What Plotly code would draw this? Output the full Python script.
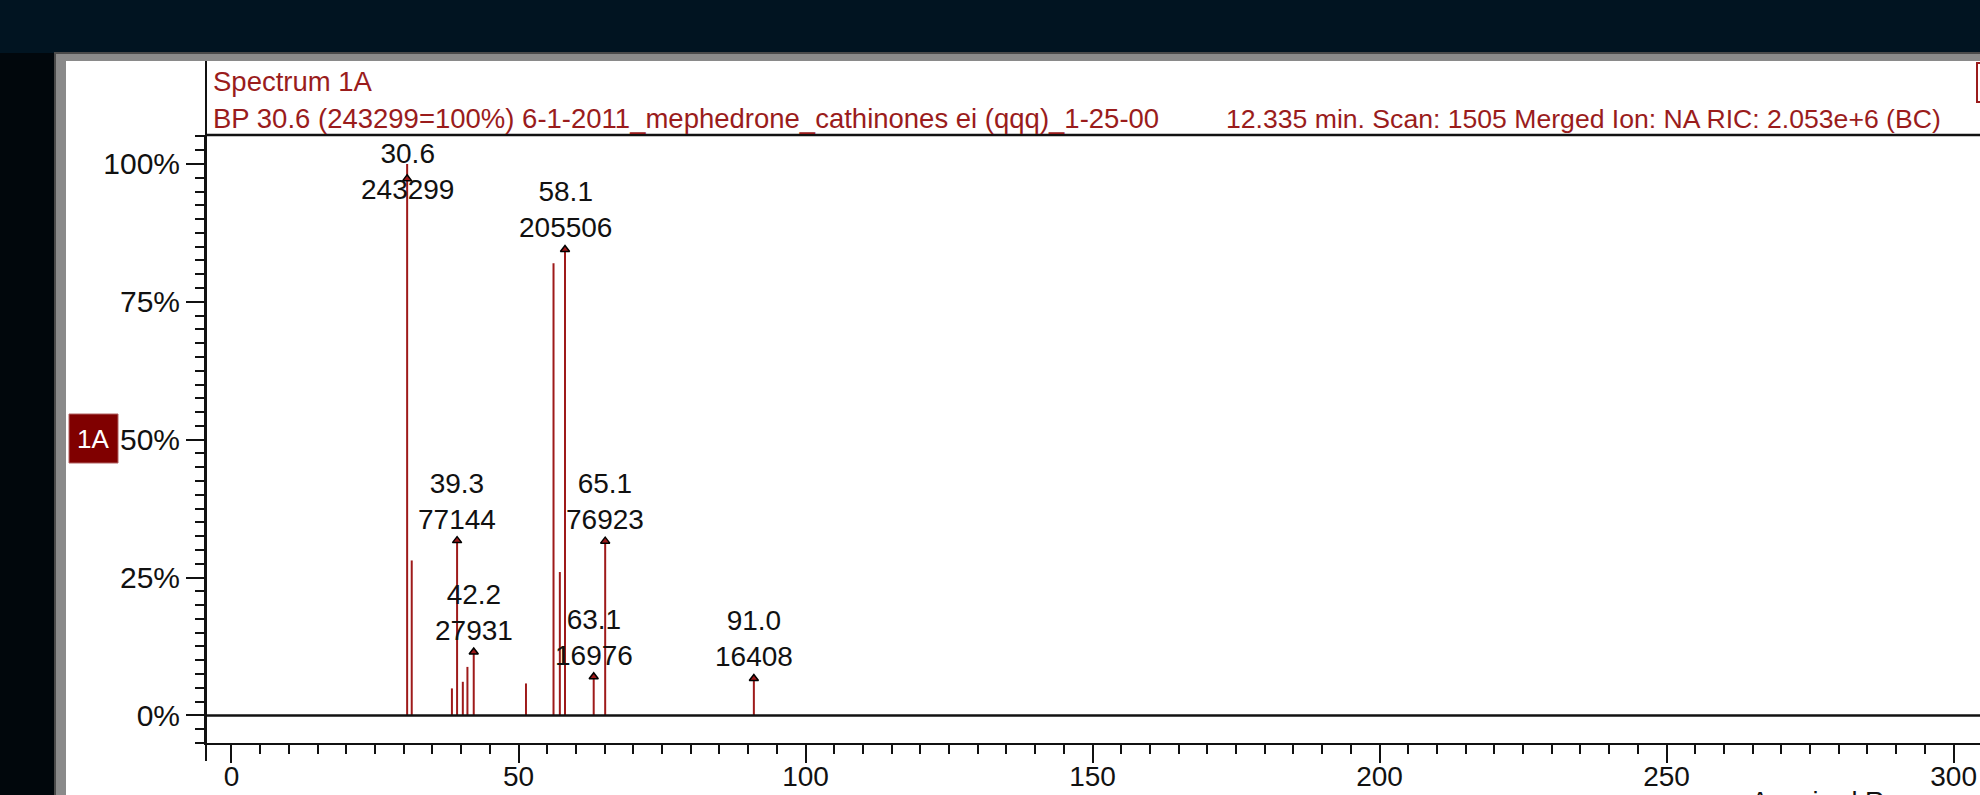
import plotly.graph_objects as go

# ---------------- data ----------------
peak_mz = [30.6, 31.4, 38.4, 39.3, 40.3, 41.1, 42.2, 51.3, 56.1, 57.2, 58.1, 63.1, 65.1, 91.0]
peak_rel = [100.0, 28.1, 4.9, 31.7, 6.1, 8.8, 11.5, 5.8, 82.0, 26.0, 84.5, 7.0, 31.6, 6.7]

label_mz = [30.6, 58.1, 39.3, 65.1, 42.2, 63.1, 91.0]
label_int = [243299, 205506, 77144, 76923, 27931, 16976, 16408]

x_ticks = [0, 50, 100, 150, 200, 250, 300]
y_ticks = [0, 25, 50, 75, 100]
y_ticktext = ["0%", "25%", "50%", "75%", "100%"]

title1 = "Spectrum 1A"
title2 = "BP 30.6 (243299=100%) 6-1-2011_mephedrone_cathinones ei (qqq)_1-25-00"
title3 = "12.335 min. Scan: 1505 Merged Ion: NA RIC: 2.053e+6 (BC)"
trace_tag = "1A"
range_text = "Acquired Range"

# ---------------- layout geometry (pixels) ----------------
W, H = 1980, 795
L, R, T, B = 206, 1980, 135, 743
X_RANGE = [-4.44, 304.6]
Y_RANGE = [-5, 105.25]

PEAK_COLOR = "#9e1a1a"
TEXT_RED = "#9a1c1c"
FONT = "Liberation Sans, Arial, sans-serif"


def xp(px):
    return (px - L) / (R - L)


def yp(py):
    return (B - py) / (B - T)


fig = go.Figure()

# peak sticks
xs, ys = [], []
for m, h in zip(peak_mz, peak_rel):
    xs += [m, m, None]
    ys += [0, h, None]
fig.add_trace(go.Scatter(x=xs, y=ys, mode="lines",
                         line=dict(color=PEAK_COLOR, width=2),
                         hoverinfo="skip", showlegend=False))

# arrow markers + labels
rel_lookup = dict(zip(peak_mz, peak_rel))
ARROW_CAP = 97.3
arr_x, arr_y = [], []
annotations = []
for m, inten in zip(label_mz, label_int):
    h = rel_lookup[m]
    arr_x.append(m)
    arr_y.append(min(h, ARROW_CAP))
    txt = f"{m:.1f}<br>{inten}"
    if h + 14.5 > Y_RANGE[1]:
        annotations.append(dict(x=m, y=Y_RANGE[1], xref="x", yref="y", text=txt,
                                showarrow=False, xanchor="center", yanchor="top",
                                yshift=-1, font=dict(family=FONT, size=28, color="#111")))
    else:
        annotations.append(dict(x=m, y=h, xref="x", yref="y", text=txt,
                                showarrow=False, xanchor="center", yanchor="bottom",
                                yshift=4, font=dict(family=FONT, size=28, color="#111")))

fig.add_trace(go.Scatter(x=arr_x, y=arr_y, mode="markers",
                         marker=dict(symbol="triangle-up", size=8, color=PEAK_COLOR,
                                     line=dict(color="black", width=1.5)),
                         hoverinfo="skip", showlegend=False))

# header texts
annotations += [
    dict(x=xp(211), y=yp(82), xref="paper", yref="paper", text=title1, showarrow=False,
         xanchor="left", yanchor="middle", font=dict(family=FONT, size=27.5, color=TEXT_RED)),
    dict(x=xp(211), y=yp(119), xref="paper", yref="paper", text=title2, showarrow=False,
         xanchor="left", yanchor="middle", font=dict(family=FONT, size=27.5, color=TEXT_RED)),
    dict(x=xp(1224), y=yp(119), xref="paper", yref="paper", text=title3, showarrow=False,
         xanchor="left", yanchor="middle", font=dict(family=FONT, size=26.6, color=TEXT_RED)),
    dict(x=xp(93.5), y=yp(438.5), xref="paper", yref="paper", text=trace_tag, showarrow=False,
         xanchor="center", yanchor="middle", font=dict(family=FONT, size=26, color="white")),
    dict(x=xp(1749), y=yp(785), xref="paper", yref="paper", text=range_text, showarrow=False,
         xanchor="left", yanchor="top", font=dict(family=FONT, size=27, color="#111")),
]

shapes = [
    # dark left strip
    dict(type="rect", xref="paper", yref="paper", x0=xp(0), x1=xp(56), y0=yp(H + 10), y1=yp(53),
         fillcolor="#01070c", line_width=0, layer="below"),
    # window frame
    dict(type="rect", xref="paper", yref="paper", x0=xp(55), x1=xp(W + 10), y0=yp(H + 10), y1=yp(53),
         fillcolor="#8a8a8a", line=dict(color="#4a4a4a", width=2), layer="below"),
    # white panel
    dict(type="rect", xref="paper", yref="paper", x0=xp(66), x1=xp(W + 10), y0=yp(H + 10), y1=yp(61),
         fillcolor="white", line_width=0, layer="below"),
    # y axis line extended to top and below x axis
    dict(type="line", xref="paper", yref="paper", x0=xp(206), x1=xp(206), y0=yp(761), y1=yp(61),
         line=dict(color="#111", width=2)),
    # header separator
    dict(type="line", xref="paper", yref="paper", x0=xp(206), x1=xp(W + 5), y0=yp(135), y1=yp(135),
         line=dict(color="#111", width=2.5)),
    # baseline 0%
    dict(type="line", xref="paper", yref="y", x0=0, x1=1.01, y0=0, y1=0,
         line=dict(color="#111", width=2.5)),
    # 1A tag
    dict(type="rect", xref="paper", yref="paper", x0=xp(69), x1=xp(118), y0=yp(463), y1=yp(414),
         fillcolor="#800000", line=dict(color="#b06060", width=1)),
    # top-right box edge
    dict(type="rect", xref="paper", yref="paper", x0=xp(1977), x1=xp(2010), y0=yp(102), y1=yp(63),
         fillcolor="rgba(0,0,0,0)", line=dict(color=TEXT_RED, width=2)),
]

fig.update_layout(
    width=W, height=H, autosize=False,
    margin=dict(l=L, r=W - R, t=T, b=H - B, pad=0, autoexpand=False),
    paper_bgcolor="#011421", plot_bgcolor="white",
    showlegend=False,
    annotations=annotations, shapes=shapes,
    xaxis=dict(range=X_RANGE, showgrid=False, zeroline=False, automargin=False,
               showline=True, linecolor="#111", linewidth=2,
               tickmode="array", tickvals=x_ticks, ticks="outside", ticklen=18,
               tickwidth=2, tickcolor="#111", ticklabelstandoff=-11,
               tickfont=dict(family=FONT, size=28, color="#111"),
               minor=dict(tickmode="linear", tick0=0, dtick=5, ticks="outside", ticklen=9,
                          tickwidth=2, tickcolor="#111", showgrid=False)),
    yaxis=dict(range=Y_RANGE, showgrid=False, zeroline=False, automargin=False,
               showline=True, linecolor="#111", linewidth=2,
               tickmode="array", tickvals=y_ticks, ticktext=y_ticktext,
               ticks="outside", ticklen=18, tickwidth=2, tickcolor="#111",
               tickfont=dict(family=FONT, size=30, color="#111"),
               minor=dict(tickmode="linear", tick0=0, dtick=2.5, ticks="outside", ticklen=9,
                          tickwidth=2, tickcolor="#111", showgrid=False)),
)

fig.write_html("out.html",
               config={"displayModeBar": False},
               post_script="document.body.style.margin='0';document.body.style.padding='0';"
                           "document.body.style.background='#011421';")
